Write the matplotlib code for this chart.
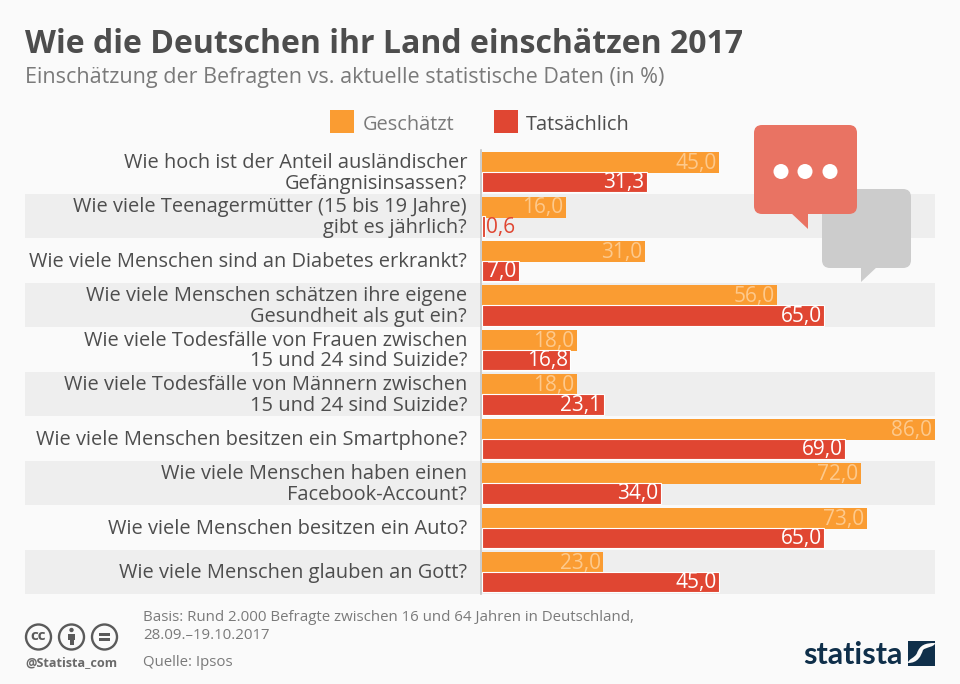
import matplotlib
matplotlib.use('Agg')
import matplotlib.pyplot as plt
from matplotlib.patches import FancyBboxPatch, Polygon, Circle, Rectangle, PathPatch
from matplotlib.path import Path

plt.rcParams['font.family'] = ['Open Sans', 'DejaVu Sans']

questions = [
    "Wie hoch ist der Anteil ausländischer\nGefängnisinsassen?",
    "Wie viele Teenagermütter (15 bis 19 Jahre)\ngibt es jährlich?",
    "Wie viele Menschen sind an Diabetes erkrankt?",
    "Wie viele Menschen schätzen ihre eigene\nGesundheit als gut ein?",
    "Wie viele Todesfälle von Frauen zwischen\n15 und 24 sind Suizide?",
    "Wie viele Todesfälle von Männern zwischen\n15 und 24 sind Suizide?",
    "Wie viele Menschen besitzen ein Smartphone?",
    "Wie viele Menschen haben einen\nFacebook-Account?",
    "Wie viele Menschen besitzen ein Auto?",
    "Wie viele Menschen glauben an Gott?",
]
geschaetzt = [45.0, 16.0, 31.0, 56.0, 18.0, 18.0, 86.0, 72.0, 73.0, 23.0]
tatsaechlich = [31.3, 0.6, 7.0, 65.0, 16.8, 23.1, 69.0, 34.0, 65.0, 45.0]
series_names = ["Geschätzt", "Tatsächlich"]

W, H = 960, 684
BG = '#fafafa'; BAND = '#eeeeee'; ORANGE = '#fa9c32'; RED = '#e04632'
TXT = '#4d4d4d'; GREY = '#7a7a7a'; NAVY = '#0f2f4a'

fig = plt.figure(figsize=(W/100, H/100), dpi=100, facecolor=BG)

# pixel-space background layer
bgax = fig.add_axes([0, 0, 1, 1], zorder=0)
bgax.set_xlim(0, W); bgax.set_ylim(H, 0); bgax.axis('off')

top, rowh = 149.5, 44.45
for i in range(1, 10, 2):
    bgax.add_patch(Rectangle((0 + 25, top + i*rowh), 910, rowh, fc=BAND, ec='none'))

# data axes
x0, x1 = 482, 935
ax = fig.add_axes([x0/W, 1 - (top + 10*rowh)/H, (x1-x0)/W, 10*rowh/H], zorder=2)
ax.set_xlim(0, 86); ax.set_ylim(10, 0)
ax.patch.set_alpha(0); ax.axis('off')
ypos = [i + 0.5 for i in range(10)]
h_bar = 21/rowh
ax.barh([y - 0.205 for y in ypos], geschaetzt, height=h_bar, color=ORANGE, ec='none', zorder=2)
ax.barh([y + 0.235 for y in ypos], tatsaechlich, height=20.5/rowh, color=RED, ec='white', lw=0.8, zorder=3)

fs = 15
for y, g, t in zip(ypos, geschaetzt, tatsaechlich):
    ax.text(g - 0.5, y - 0.185, f"{g:.1f}".replace('.', ','), ha='right', va='center',
            color='#fdc98c', fontsize=fs, zorder=5, clip_on=False)
    if t < 3:
        ax.text(t + 0.1, y + 0.25, f"{t:.1f}".replace('.', ','), ha='left', va='center',
                color=RED, fontsize=fs, zorder=5)
    else:
        ax.text(t - 0.5, y + 0.25, f"{t:.1f}".replace('.', ','), ha='right', va='center',
                color='white', fontsize=fs, zorder=5)

# overlay
ov = fig.add_axes([0, 0, 1, 1], zorder=3)
ov.set_xlim(0, W); ov.set_ylim(H, 0); ov.axis('off'); ov.patch.set_alpha(0)
ov.plot([481, 481], [150, 594], color='#c4c4c4', lw=1.2, zorder=1)

for i, q in enumerate(questions):
    ov.text(467, top + (i + 0.5)*rowh + 1.5, q, ha='right', va='center', color=TXT,
            fontsize=14.4, linespacing=1.04)

ov.text(25, 44.5, "Wie die Deutschen ihr Land einschätzen 2017", fontsize=23, fontweight='bold',
        color=TXT, ha='left', va='center')
ov.text(25, 78, "Einschätzung der Befragten vs. aktuelle statistische Daten (in %)", fontsize=15.45,
        color=GREY, ha='left', va='center')

# legend
ov.add_patch(Rectangle((330, 110), 24, 23, fc=ORANGE, ec='none'))
ov.text(363, 124.5, series_names[0], fontsize=14.45, color=GREY, va='center')
ov.add_patch(Rectangle((494, 110), 24, 23, fc=RED, ec='none'))
ov.text(526, 124.5, series_names[1], fontsize=14.45, color=TXT, va='center')

# speech bubbles
def bubble(x, y, w, h, tail, color, z):
    ov.add_patch(FancyBboxPatch((x+8, y+8), w-16, h-16, boxstyle='round,pad=8,rounding_size=8',
                                fc=color, ec='none', zorder=z))
    ov.add_patch(Polygon(tail, closed=True, fc=color, ec='none', zorder=z))

bubble(822, 189, 89, 79, [(861, 266), (861, 282), (878, 266)], '#cccccc', 4)
bubble(754, 125, 103, 89, [(790, 212), (808, 229), (808, 212)], '#e97363', 5)
for cx in (781, 805, 830):
    ov.add_patch(Circle((cx, 171.5), 7.5, fc='white', ec='none', zorder=6))

# footer
ov.text(143, 626.5, "Basis: Rund 2.000 Befragte zwischen 16 und 64 Jahren in Deutschland,\n28.09.–19.10.2017",
        fontsize=10.85, color=GREY, va='center', linespacing=1.2)
ov.text(143, 662, "Quelle: Ipsos", fontsize=10.85, color=GREY, va='center')

for cx in (38.5, 71.5, 104.5):
    ov.add_patch(Circle((cx, 637), 12.5, fc='none', ec='#5a5a5a', lw=1.7))
ov.text(38.5, 636, "cc", fontsize=11, fontweight='bold', color='#5a5a5a', ha='center', va='center')
ov.add_patch(Circle((71.5, 630), 2.2, fc='#5a5a5a', ec='none'))
ov.add_patch(Rectangle((68, 633.5), 7, 6.5, fc='#5a5a5a', ec='none'))
ov.add_patch(Rectangle((69.5, 639), 4, 6, fc='#5a5a5a', ec='none'))
for yy in (634.5, 639.5):
    ov.add_patch(Rectangle((99, yy-1.2), 11, 2.4, fc='#5a5a5a', ec='none'))
ov.text(25.5, 662.5, "@Statista_com", fontsize=9.1, fontweight='bold', color='#6a6a6a', va='center')

# logo
ov.text(803.5, 655, "statista", fontsize=22, fontweight='bold', color=NAVY, va='center',
        family='Lato')
ov.add_patch(Rectangle((908, 641), 27, 25, fc=NAVY, ec='none'))
swoosh = Path([(908, 663), (918, 663), (921, 656), (923, 650), (926, 647), (935, 647),
               (935, 643), (925, 643), (920, 645), (917, 653), (915, 658), (908, 659), (908, 663)],
              [Path.MOVETO, Path.CURVE4, Path.CURVE4, Path.CURVE4, Path.CURVE4, Path.CURVE4,
               Path.LINETO, Path.CURVE4, Path.CURVE4, Path.CURVE4, Path.CURVE4, Path.CURVE4, Path.LINETO])
ov.add_patch(PathPatch(swoosh, fc=BG, ec='none'))

fig.savefig('out.png', dpi=100, facecolor=BG)
